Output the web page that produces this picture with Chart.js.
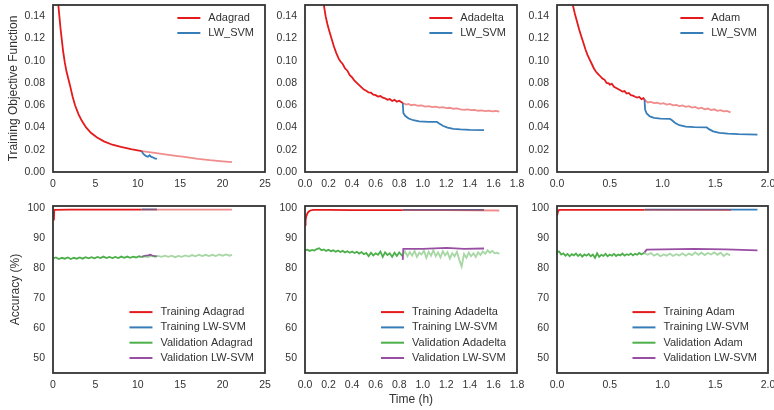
<!DOCTYPE html>
<html>
<head>
<meta charset="utf-8">
<script src="https://cdn.jsdelivr.net/npm/chart.js@4.4.1/dist/chart.umd.min.js"></script>
<style>
  html, body { margin: 0; padding: 0; background: #fff; }
  #wrap { position: relative; width: 774px; height: 410px; overflow: hidden; }
  #wrap canvas { position: absolute; }
</style>
</head>
<body>
<div id="wrap">
  <canvas id="lossAdagrad" width="290" height="195" style="left:0px;top:0px"></canvas>
  <canvas id="lossAdadelta" width="290" height="195" style="left:252px;top:0px"></canvas>
  <canvas id="lossAdam" width="270" height="195" style="left:504px;top:0px"></canvas>
  <canvas id="accAdagrad" width="290" height="215" style="left:0px;top:195px"></canvas>
  <canvas id="accAdadelta" width="290" height="215" style="left:252px;top:195px"></canvas>
  <canvas id="accAdam" width="270" height="215" style="left:504px;top:195px"></canvas>
</div>
<script>
// ---- tick labels ----
const lossTicks = [0.00, 0.02, 0.04, 0.06, 0.08, 0.10, 0.12, 0.14];
const accTicks = [50, 60, 70, 80, 90, 100];
const adagradTimeTicks = [0, 5, 10, 15, 20, 25];
const adadeltaTimeTicks = [0.0, 0.2, 0.4, 0.6, 0.8, 1.0, 1.2, 1.4, 1.6, 1.8];
const adamTimeTicks = [0.0, 0.5, 1.0, 1.5, 2.0];

// ---- training objective, [time (h), value] ----
const adagradLoss = [[0.63,0.150],[0.75,0.140],[0.9,0.128],[1.05,0.118],[1.2,0.108],[1.4,0.098],[1.6,0.090],[1.8,0.084],[2.0,0.078],[2.3,0.068],[2.6,0.060],[3.0,0.052],[3.4,0.046],[3.9,0.040],[4.5,0.035],[5.2,0.031],[6.0,0.0275],[7.0,0.0245],[8.0,0.0225],[9.2,0.0205],[10.45,0.0188]];
const adagradLossRest = [[10.45,0.0188],[12,0.0172],[13.2,0.0159],[14.5,0.0145],[15.5,0.0135],[17.1,0.0118],[18.5,0.0106],[20,0.0096],[21.1,0.0088]];
const lwAdagradLoss = [[10.45,0.0188],[10.6,0.0168],[10.8,0.0152],[11.0,0.0143],[11.2,0.0137],[11.4,0.0150],[11.55,0.0138],[11.8,0.0130],[12.0,0.0122],[12.25,0.0117]];

const adadeltaLoss = [[0.16,0.150],[0.175,0.140],[0.19,0.133],[0.205,0.127],[0.225,0.120],[0.245,0.113],[0.265,0.107],[0.285,0.102],[0.30,0.0995],[0.32,0.097],[0.34,0.093],[0.36,0.091],[0.38,0.087],[0.40,0.085],[0.42,0.082],[0.44,0.080],[0.46,0.078],[0.48,0.076],[0.50,0.074],[0.52,0.073],[0.54,0.0715],[0.56,0.0712],[0.58,0.0695],[0.60,0.069],[0.62,0.0678],[0.64,0.0682],[0.66,0.0668],[0.68,0.0662],[0.70,0.0648],[0.72,0.0655],[0.74,0.0638],[0.76,0.0648],[0.78,0.0632],[0.80,0.0640],[0.83,0.062]];
const adadeltaLossRest = [[0.83,0.062],[0.86,0.0605],[0.88,0.0612],[0.90,0.060],[0.93,0.0605],[0.96,0.0595],[0.99,0.0598],[1.02,0.0588],[1.05,0.0592],[1.08,0.0583],[1.11,0.0587],[1.14,0.0578],[1.17,0.0582],[1.20,0.0574],[1.23,0.0577],[1.26,0.0568],[1.29,0.0572],[1.32,0.0563],[1.35,0.0558],[1.38,0.0563],[1.41,0.0555],[1.44,0.0558],[1.47,0.0550],[1.50,0.0553],[1.53,0.0547],[1.56,0.0551],[1.59,0.0544],[1.62,0.0548],[1.65,0.0542]];
const lwAdadeltaLoss = [[0.83,0.062],[0.835,0.053],[0.85,0.0505],[0.88,0.048],[0.92,0.0465],[0.97,0.0455],[1.05,0.0450],[1.12,0.0450],[1.14,0.0435],[1.17,0.0415],[1.21,0.0398],[1.26,0.0388],[1.32,0.0382],[1.40,0.0378],[1.52,0.0377]];

const adamLoss = [[0.15,0.150],[0.17,0.142],[0.19,0.135],[0.21,0.128],[0.23,0.122],[0.25,0.116],[0.27,0.110],[0.29,0.105],[0.31,0.101],[0.33,0.097],[0.35,0.093],[0.37,0.090],[0.39,0.088],[0.41,0.086],[0.43,0.084],[0.45,0.083],[0.47,0.080],[0.49,0.0797],[0.50,0.0785],[0.52,0.0792],[0.54,0.0765],[0.57,0.075],[0.60,0.0735],[0.62,0.0722],[0.64,0.0727],[0.66,0.0705],[0.68,0.0710],[0.70,0.069],[0.72,0.0686],[0.74,0.0676],[0.76,0.0668],[0.78,0.0674],[0.80,0.0655],[0.82,0.0664],[0.83,0.065]];
const adamLossRest = [[0.83,0.065],[0.86,0.0625],[0.89,0.063],[0.92,0.0618],[0.95,0.0622],[0.98,0.0612],[1.01,0.0618],[1.04,0.0605],[1.07,0.0612],[1.10,0.0598],[1.13,0.0603],[1.16,0.0592],[1.19,0.0598],[1.22,0.0585],[1.25,0.0592],[1.28,0.0578],[1.31,0.0585],[1.34,0.0570],[1.37,0.0578],[1.40,0.0563],[1.43,0.0570],[1.46,0.0556],[1.49,0.0563],[1.52,0.0550],[1.55,0.0556],[1.58,0.0545],[1.61,0.0548],[1.645,0.0535]];
const lwAdamLoss = [[0.83,0.065],[0.835,0.056],[0.85,0.0525],[0.88,0.0500],[0.92,0.0487],[0.98,0.0480],[1.07,0.0478],[1.09,0.0465],[1.12,0.0440],[1.16,0.0420],[1.22,0.0408],[1.30,0.0403],[1.42,0.0400],[1.44,0.0385],[1.48,0.0365],[1.54,0.0352],[1.62,0.0345],[1.72,0.0340],[1.90,0.0336]];

// ---- accuracy (%), [time (h), value] ----
const adagradTrain = [[0.1,96.0],[0.15,99.5],[2,99.6],[5,99.6],[8,99.6],[10.45,99.6]];
const adagradTrainRest = [[10.45,99.6],[15,99.6],[21.1,99.6]];
const lwAdagradTrain = [[10.45,99.65],[12.25,99.65]];
const adagradVal = [[0,83.3],[0.35,83.6],[0.7,83.1],[1.05,83.5],[1.4,83.2],[1.75,83.6],[2.1,83.1],[2.45,83.5],[2.8,83.2],[3.15,83.6],[3.5,83.2],[3.85,83.7],[4.2,83.3],[4.55,83.7],[4.9,83.3],[5.25,83.8],[5.6,83.4],[5.95,83.9],[6.3,83.4],[6.65,83.8],[7.0,83.4],[7.35,83.8],[7.7,83.4],[8.05,83.9],[8.4,83.5],[8.75,83.9],[9.1,83.5],[9.45,83.9],[9.8,83.6],[10.15,84.0],[10.45,83.7]];
const adagradValRest = [[10.45,83.7],[10.8,84.0],[11.2,83.7],[11.6,84.1],[12,83.8],[12.4,84.1],[12.8,83.8],[13.2,84.2],[13.6,83.8],[14,84.2],[14.4,83.7],[14.8,84.1],[15.2,83.8],[15.6,84.3],[16,83.9],[16.4,84.4],[16.8,84.0],[17.2,84.5],[17.6,84.1],[18,84.5],[18.4,84.1],[18.8,84.5],[19.2,84.1],[19.6,84.6],[20,84.2],[20.4,84.6],[20.8,84.2],[21.1,84.5]];
const lwAdagradVal = [[10.45,83.8],[10.8,84.1],[11.2,84.3],[11.5,84.5],[11.8,84.1],[12.25,84.0]];

const adadeltaTrain = [[0,94.5],[0.005,96.0],[0.01,97.2],[0.02,98.3],[0.03,98.9],[0.045,99.3],[0.07,99.5],[0.2,99.5],[0.4,99.4],[0.6,99.4],[0.83,99.4]];
const adadeltaTrainRest = [[0.83,99.4],[1.2,99.4],[1.65,99.3]];
const lwAdadeltaTrain = [[0.83,99.5],[1.52,99.5]];
const adadeltaVal = [[0,86.0],[0.02,86.2],[0.04,85.8],[0.06,86.1],[0.08,85.9],[0.10,86.4],[0.12,86.7],[0.14,86.0],[0.16,86.3],[0.18,85.8],[0.20,86.2],[0.22,85.7],[0.24,86.0],[0.26,85.5],[0.28,85.9],[0.30,85.4],[0.32,85.8],[0.34,85.3],[0.36,85.7],[0.38,85.2],[0.40,85.6],[0.42,85.1],[0.44,85.5],[0.46,84.9],[0.48,85.4],[0.50,84.7],[0.52,85.1],[0.54,84.0],[0.56,85.2],[0.58,84.3],[0.60,85.0],[0.62,84.5],[0.64,85.6],[0.66,83.8],[0.68,85.3],[0.70,84.4],[0.72,85.0],[0.74,83.8],[0.76,85.2],[0.78,84.1],[0.80,85.3],[0.83,84.0]];
const adadeltaValRest = [[0.83,84.5],[0.85,85.6],[0.87,84.0],[0.89,85.4],[0.91,84.2],[0.93,85.8],[0.95,83.8],[0.97,85.2],[0.99,84.6],[1.01,85.9],[1.03,83.5],[1.05,85.5],[1.07,84.2],[1.09,86.0],[1.11,84.0],[1.13,85.3],[1.15,83.6],[1.17,85.7],[1.19,84.3],[1.21,85.4],[1.23,83.2],[1.25,85.0],[1.27,84.0],[1.29,85.5],[1.31,82.8],[1.33,80.6],[1.35,84.8],[1.37,83.5],[1.39,85.2],[1.41,84.0],[1.43,85.0],[1.45,83.8],[1.47,85.3],[1.49,84.4],[1.51,85.6],[1.53,84.8],[1.55,86.0],[1.57,85.2],[1.59,85.8],[1.61,85.0],[1.63,85.2],[1.65,84.8]];
const lwAdadeltaVal = [[0.83,82.8],[0.835,86.5],[1.0,86.5],[1.2,86.8],[1.35,86.5],[1.52,86.6]];

const adamTrain = [[0,97.5],[0.01,99.0],[0.02,99.5],[0.3,99.5],[0.6,99.5],[0.83,99.5]];
const adamTrainRest = [[0.83,99.5],[1.65,99.4]];
const lwAdamTrain = [[0.83,99.6],[1.9,99.6]];
const adamVal = [[0,85.5],[0.02,85.6],[0.04,84.6],[0.06,85.0],[0.08,84.2],[0.10,84.8],[0.12,84.0],[0.14,84.7],[0.16,84.3],[0.18,84.9],[0.20,84.1],[0.22,84.7],[0.24,83.9],[0.26,84.6],[0.28,84.2],[0.30,84.8],[0.32,84.0],[0.34,84.6],[0.36,83.5],[0.38,85.0],[0.40,83.8],[0.42,84.5],[0.44,84.1],[0.46,84.8],[0.48,84.0],[0.50,84.6],[0.52,84.2],[0.54,84.8],[0.56,84.1],[0.58,84.6],[0.60,84.3],[0.62,84.9],[0.64,84.2],[0.66,84.7],[0.68,84.4],[0.70,84.9],[0.72,84.3],[0.74,84.8],[0.76,84.5],[0.78,85.1],[0.80,84.6],[0.83,85.3]];
const adamValRest = [[0.83,85.0],[0.86,84.5],[0.89,85.1],[0.92,84.2],[0.95,84.8],[0.98,84.0],[1.01,84.6],[1.04,84.2],[1.07,84.9],[1.10,84.1],[1.13,84.7],[1.16,84.3],[1.19,85.0],[1.22,84.2],[1.25,84.9],[1.28,84.4],[1.31,85.3],[1.34,84.5],[1.37,85.2],[1.40,84.4],[1.43,85.1],[1.46,84.6],[1.49,85.3],[1.52,84.5],[1.55,85.2],[1.58,84.1],[1.61,84.9],[1.64,84.3]];
const lwAdamVal = [[0.83,85.3],[0.85,86.2],[1.0,86.3],[1.3,86.5],[1.6,86.3],[1.9,86.0]];

// Set1 colours
const RED = '#e41a1c', BLUE = '#377eb8', GREEN = '#4daf4a', PURPLE = '#984ea3';
const RED_FADE = 'rgba(228, 26, 28, 0.5)';
const GREEN_FADE = 'rgba(77, 175, 74, 0.5)';
const FONT = '"Liberation Sans", Arial, sans-serif';
const TEXT = '#333';

Chart.defaults.font.family = FONT;
Chart.defaults.color = TEXT;

// frame around the plot area + a legend drawn inside it
const frameAndLegend = {
    id: 'frameAndLegend',
    afterDatasetsDraw(chart, args, opts) {
        const ctx = chart.ctx;
        const a = chart.chartArea;
        ctx.save();
        ctx.strokeStyle = '#333';
        ctx.lineWidth = 1.8;
        ctx.strokeRect(a.left, a.top, a.right - a.left, a.bottom - a.top);

        const items = opts.items || [];
        ctx.font = '11px ' + FONT;
        const maxW = Math.max(...items.map(it => ctx.measureText(it.label).width));
        const textX = a.right - 11 - maxW;
        items.forEach((it, i) => {
            const y = opts.corner === 'top'
                ? a.top + 13 + i * 15
                : a.bottom - 15 - (items.length - 1 - i) * 15.3;
            ctx.strokeStyle = it.color;
            ctx.lineWidth = 2;
            ctx.beginPath();
            ctx.moveTo(textX - 31, y);
            ctx.lineTo(textX - 8, y);
            ctx.stroke();
            ctx.fillStyle = TEXT;
            ctx.textAlign = 'left';
            ctx.textBaseline = 'middle';
            ctx.fillText(it.label, textX, y);
        });
        ctx.restore();
    }
};

function line(data, color, order) {
    return { data: data, borderColor: color, borderWidth: 1.8, order: order };
}

// Build one panel; sizes keep the plot areas lined up across canvases
function makePanel(id, datasets, cfg) {
    new Chart(document.getElementById(id), {
        type: 'line',
        data: { datasets: datasets },
        plugins: [frameAndLegend],
        options: {
            responsive: false,
            animation: false,
            devicePixelRatio: 1,
            layout: { padding: cfg.padding, autoPadding: false },
            elements: { point: { radius: 0 }, line: { tension: 0 } },
            plugins: {
                legend: { display: false },
                tooltip: { enabled: false },
                frameAndLegend: { items: cfg.legend, corner: cfg.corner }
            },
            scales: {
                x: {
                    type: 'linear',
                    min: cfg.xTicks[0],
                    max: cfg.xTicks[cfg.xTicks.length - 1],
                    grid: { display: false, drawTicks: false },
                    border: { display: false },
                    afterBuildTicks: s => { s.ticks = cfg.xTicks.map(v => ({ value: v })); },
                    afterFit: s => { s.height = cfg.xHeight; s.paddingLeft = 0; s.paddingRight = 0; },
                    ticks: {
                        padding: 6, color: TEXT, font: { size: 10.5 },
                        maxRotation: 0, autoSkip: false,
                        callback: cfg.xFmt
                    },
                    title: {
                        display: !!cfg.xTitle, text: cfg.xTitle || '',
                        color: TEXT, font: { size: 12 }, padding: { top: 0, bottom: 3 }
                    }
                },
                y: {
                    min: cfg.yMin,
                    max: cfg.yMax,
                    grid: { display: false, drawTicks: false },
                    border: { display: false },
                    afterBuildTicks: s => { s.ticks = cfg.yTicks.map(v => ({ value: v })); },
                    afterFit: s => { s.width = 53; s.paddingTop = 0; s.paddingBottom = 0; },
                    ticks: {
                        padding: 8, color: TEXT, font: { size: 10.5 },
                        autoSkip: false,
                        callback: cfg.yFmt
                    },
                    title: {
                        display: !!cfg.yTitle, text: cfg.yTitle || '',
                        color: TEXT, font: { size: 12 }, padding: { top: cfg.yTitlePad || 0, bottom: 0 }
                    }
                }
            }
        }
    });
}

const lossFmt = v => v.toFixed(2);
const accFmt = v => String(v);
const intFmt = v => String(v);
const oneFmt = v => v.toFixed(1);

const topBase = { yMin: 0, yMax: 0.15, yTicks: lossTicks, yFmt: lossFmt, xHeight: 23, corner: 'top' };
const botBase = { yMin: 45, yMax: 100.8, yTicks: accTicks, yFmt: accFmt, xHeight: 37, corner: 'bottom' };

makePanel('lossAdagrad', [
    line(adagradLossRest, RED_FADE, 0),
    line(lwAdagradLoss, BLUE, 1),
    line(adagradLoss, RED, 2)
], Object.assign({}, topBase, {
    padding: { top: 5, right: 25, left: 0, bottom: 0 },
    xTicks: adagradTimeTicks, xFmt: intFmt,
    yTitle: 'Training Objective Function', yTitlePad: 6.5,
    legend: [{ label: 'Adagrad', color: RED }, { label: 'LW_SVM', color: BLUE }]
}));

makePanel('lossAdadelta', [
    line(adadeltaLossRest, RED_FADE, 0),
    line(lwAdadeltaLoss, BLUE, 1),
    line(adadeltaLoss, RED, 2)
], Object.assign({}, topBase, {
    padding: { top: 5, right: 25, left: 0, bottom: 0 },
    xTicks: adadeltaTimeTicks, xFmt: oneFmt,
    legend: [{ label: 'Adadelta', color: RED }, { label: 'LW_SVM', color: BLUE }]
}));

makePanel('lossAdam', [
    line(adamLossRest, RED_FADE, 0),
    line(lwAdamLoss, BLUE, 1),
    line(adamLoss, RED, 2)
], Object.assign({}, topBase, {
    padding: { top: 5, right: 6, left: 0, bottom: 0 },
    xTicks: adamTimeTicks, xFmt: oneFmt,
    legend: [{ label: 'Adam', color: RED }, { label: 'LW_SVM', color: BLUE }]
}));

makePanel('accAdagrad', [
    line(adagradTrainRest, RED_FADE, 0),
    line(adagradValRest, GREEN_FADE, 0),
    line(lwAdagradTrain, BLUE, 1),
    line(lwAdagradVal, PURPLE, 1),
    line(adagradTrain, RED, 2),
    line(adagradVal, GREEN, 2)
], Object.assign({}, botBase, {
    padding: { top: 11, right: 25, left: 0, bottom: 0 },
    xTicks: adagradTimeTicks, xFmt: intFmt,
    yTitle: 'Accuracy (%)', yTitlePad: 8.5,
    legend: [
        { label: 'Training Adagrad', color: RED },
        { label: 'Training LW-SVM', color: BLUE },
        { label: 'Validation Adagrad', color: GREEN },
        { label: 'Validation LW-SVM', color: PURPLE }
    ]
}));

makePanel('accAdadelta', [
    line(adadeltaTrainRest, RED_FADE, 0),
    line(adadeltaValRest, GREEN_FADE, 0),
    line(lwAdadeltaTrain, BLUE, 1),
    line(lwAdadeltaVal, PURPLE, 1),
    line(adadeltaTrain, RED, 2),
    line(adadeltaVal, GREEN, 2)
], Object.assign({}, botBase, {
    padding: { top: 11, right: 25, left: 0, bottom: 0 },
    xTicks: adadeltaTimeTicks, xFmt: oneFmt,
    xTitle: 'Time (h)',
    legend: [
        { label: 'Training Adadelta', color: RED },
        { label: 'Training LW-SVM', color: BLUE },
        { label: 'Validation Adadelta', color: GREEN },
        { label: 'Validation LW-SVM', color: PURPLE }
    ]
}));

makePanel('accAdam', [
    line(adamTrainRest, RED_FADE, 0),
    line(adamValRest, GREEN_FADE, 0),
    line(lwAdamTrain, BLUE, 1),
    line(lwAdamVal, PURPLE, 1),
    line(adamTrain, RED, 2),
    line(adamVal, GREEN, 2)
], Object.assign({}, botBase, {
    padding: { top: 11, right: 6, left: 0, bottom: 0 },
    xTicks: adamTimeTicks, xFmt: oneFmt,
    legend: [
        { label: 'Training Adam', color: RED },
        { label: 'Training LW-SVM', color: BLUE },
        { label: 'Validation Adam', color: GREEN },
        { label: 'Validation LW-SVM', color: PURPLE }
    ]
}));
</script>
</body>
</html>
